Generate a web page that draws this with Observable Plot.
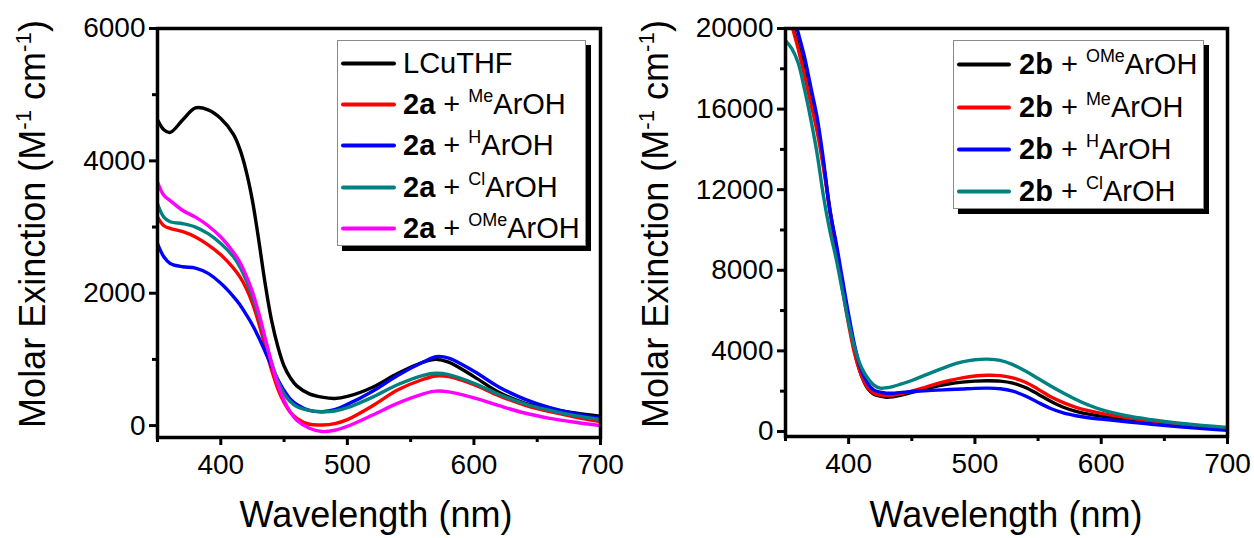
<!DOCTYPE html>
<html><head><meta charset="utf-8">
<script src="https://cdn.jsdelivr.net/npm/d3@7"></script>
<script src="https://cdn.jsdelivr.net/npm/@observablehq/plot@0.6"></script>
<style>
body{margin:0;background:#fff;}
#wrap{position:relative;width:1254px;height:538px;overflow:hidden;font-family:"Liberation Sans",Arial,sans-serif;color:#000;background:#fff}
.panel{position:absolute;top:0}
.ytitle{position:absolute;white-space:nowrap;font-size:36px;line-height:1;transform:translate(-50%,-50%) rotate(-90deg)}
.xtitle{position:absolute;white-space:nowrap;font-size:36px;line-height:1;transform:translateX(-50%)}
.legend{position:absolute;background:#fff;border:1px solid #8a8a8a;box-shadow:5px 5px 0 #000}
.entry{position:absolute;left:0;display:flex;align-items:center;font-size:29px;line-height:1;white-space:nowrap;transform:translateY(-50%)}
.sw{display:inline-block;height:4px;border-radius:2px}
sup{font-size:0.62em;vertical-align:0.62em;line-height:0}
</style>
</head><body>
<div id="wrap"></div>
<script>
// ---------- Left panel data (M^-1 cm^-1 vs nm) ----------
const wlA = [350,355,360,370,380,390,400,410,415,420,425,430,435,440,445,450,455,460,470,480,490,500,520,540,560,570,580,600,620,640,660,680,700];
const lcuthf = [4620,4470,4430,4620,4800,4770,4640,4400,4180,3850,3400,2800,2150,1600,1200,900,720,600,480,430,410,440,580,790,960,1000,960,740,500,340,250,190,140];
const a2Me  = [3150,3020,2980,2930,2850,2730,2580,2380,2250,2080,1850,1550,1200,850,560,350,200,110,20,10,30,90,300,540,700,750,740,620,450,310,210,130,60];
const a2H   = [2750,2550,2450,2400,2380,2300,2150,1950,1830,1680,1520,1330,1120,900,700,530,400,320,230,210,240,320,520,760,960,1040,1020,820,580,400,270,180,110];
const a2Cl  = [3350,3150,3080,3050,3000,2900,2750,2550,2400,2200,1950,1650,1300,960,680,480,360,290,230,210,220,270,430,620,760,790,770,640,470,330,230,150,90];
const a2OMe = [3680,3480,3400,3250,3150,3020,2850,2620,2470,2270,2020,1700,1330,950,630,380,200,80,-40,-90,-70,-10,160,340,480,520,510,420,300,190,110,50,0];
const leftNames  = ["LCuTHF","2a + MeArOH","2a + HArOH","2a + ClArOH","2a + OMeArOH"];
const leftPrefix = [null,"2a","2a","2a","2a"];
const leftSubs   = [null,"Me","H","Cl","OMe"];
const leftSeries = [lcuthf,a2Me,a2H,a2Cl,a2OMe];
const leftColors = ["#000000","#ff0000","#0000ff","#008080","#ff00ff"];

// ---------- Right panel data ----------
const wlB = [350,355,360,365,370,375,380,385,390,395,400,405,410,415,420,425,430,435,440,450,460,470,480,490,500,510,520,530,540,550,560,570,580,590,600,620,640,660,680,700];
const b2OMe = [22000,20300,19200,18000,16600,15100,13300,11100,9200,7300,5500,3900,2800,2150,1850,1750,1700,1720,1780,1940,2100,2250,2370,2450,2500,2520,2500,2400,2180,1850,1500,1200,1000,860,760,590,450,330,230,150];
const b2Me  = [22000,20200,19000,17700,16300,14900,13100,11000,9000,7100,5300,3800,2800,2200,1900,1800,1780,1800,1850,2000,2180,2370,2530,2660,2750,2790,2770,2660,2440,2100,1720,1430,1200,1030,900,690,520,380,260,150];
const b2H   = [23000,21000,19800,18600,17100,15600,13500,11000,9400,7600,5800,4200,3050,2400,2050,1950,1900,1900,1930,1980,2020,2050,2080,2110,2140,2150,2120,2000,1760,1440,1140,920,780,680,610,480,360,240,140,60];
const b2Cl  = [19400,19000,18300,17000,15500,13800,11700,10000,8600,7000,5400,4100,3200,2650,2300,2150,2170,2230,2320,2530,2780,3030,3270,3450,3560,3590,3530,3320,3000,2630,2260,1910,1590,1310,1080,780,580,420,300,200];
const rightNames  = ["2b + OMeArOH","2b + MeArOH","2b + HArOH","2b + ClArOH"];
const rightPrefix = ["2b","2b","2b","2b"];
const rightSubs   = ["OMe","Me","H","Cl"];
const rightSeries = [b2OMe,b2Me,b2H,b2Cl];
const rightColors = ["#000000","#ff0000","#0000ff","#008080"];

// ---------- Tick values ----------
const xMajor = [400,500,600,700];
const xMinor = [350,450,550,650];
const yMajorA = [0,2000,4000,6000];
const yMinorA = [1000,3000,5000];
const yMajorB = [0,4000,8000,12000,16000,20000];
const yMinorB = [2000,6000,10000,14000,18000];

function rows(wl, series, names){
  return series.flatMap((vals,i)=>vals.map((v,j)=>({w:wl[j], v, s:names[i]})));
}

const wrap = document.getElementById("wrap");
const fmt = d3.format("d");

function panel(opts){
  const chart = Plot.plot({
    width: opts.width, height: 538,
    marginLeft: opts.ml, marginRight: opts.mr, marginTop: 28, marginBottom: opts.mb,
    style: {fontFamily: '"Liberation Sans", Arial, sans-serif', color: "#000", background: "transparent", overflow: "visible"},
    x: {domain: [350,700]},
    y: {domain: opts.ydomain},
    color: {domain: opts.names, range: opts.colors},
    marks: [
      Plot.line(opts.data, {x:"w", y:"v", z:"s", stroke:"s", strokeWidth:3.4, curve:"catmull-rom", clip:true}),
      Plot.axisX({ticks: xMajor, tickSize: 8, tickPadding: 9, strokeWidth: 3, fontSize: 28, tickFormat: fmt, label: null}),
      Plot.axisX({ticks: xMinor, tickSize: 5, strokeWidth: 3, tickFormat: () => "", label: null}),
      Plot.axisY({ticks: opts.yMajor, tickSize: 8, tickPadding: 4, strokeWidth: 3, fontSize: 28, tickFormat: fmt, label: null}),
      Plot.axisY({ticks: opts.yMinor, tickSize: 5, strokeWidth: 3, tickFormat: () => "", label: null}),
      Plot.frame({strokeWidth: 3.5})
    ]
  });
  chart.classList.add("panel");
  chart.style.left = opts.left + "px";
  wrap.appendChild(chart);
}

panel({left:0, width:640, ml:157, mr:40, mb:101, ydomain:[-180,6000], yMajor:yMajorA, yMinor:yMinorA,
       names:leftNames, colors:leftColors, data:rows(wlA,leftSeries,leftNames)});
panel({left:640, width:614, ml:145, mr:27, mb:102, ydomain:[-250,20000], yMajor:yMajorB, yMinor:yMinorB,
       names:rightNames, colors:rightColors, data:rows(wlB,rightSeries,rightNames)});

function addEl(cls, html, style){
  const d = document.createElement("div");
  d.className = cls; d.innerHTML = html;
  Object.assign(d.style, style);
  wrap.appendChild(d); return d;
}
const yTitle = 'Molar Exinction (M<sup>-1</sup> cm<sup>-1</sup>)';
addEl("ytitle", yTitle, {left:"33px", top:"224px"});
addEl("ytitle", yTitle, {left:"656px", top:"224px"});
addEl("xtitle", "Wavelength (nm)", {left:"376px", top:"497px"});
addEl("xtitle", "Wavelength (nm)", {left:"1006px", top:"497px"});

function legend(box, names, prefix, subs, colors, centers, swW, textGap){
  const lg = addEl("legend", "", {left:box[0]+"px", top:box[1]+"px", width:box[2]+"px", height:box[3]+"px"});
  names.forEach((n,i)=>{
    const e = document.createElement("div");
    e.className = "entry";
    e.style.top = centers[i] + "px";
    e.style.left = "3px";
    const label = prefix[i] ? `<b>${prefix[i]}</b> + <sup>${subs[i]}</sup>ArOH` : n;
    e.innerHTML = `<span class="sw" style="width:${swW}px;background:${colors[i]}"></span><span style="margin-left:${textGap}px">${label}</span>`;
    lg.appendChild(e);
  });
}
legend([337,40,247,204], leftNames, leftPrefix, leftSubs, leftColors, [22,63,104,146,187], 55, 7);
legend([953,40,249,167], rightNames, rightPrefix, rightSubs, rightColors, [23,66,108,150], 54, 8);
</script>
</body></html>
